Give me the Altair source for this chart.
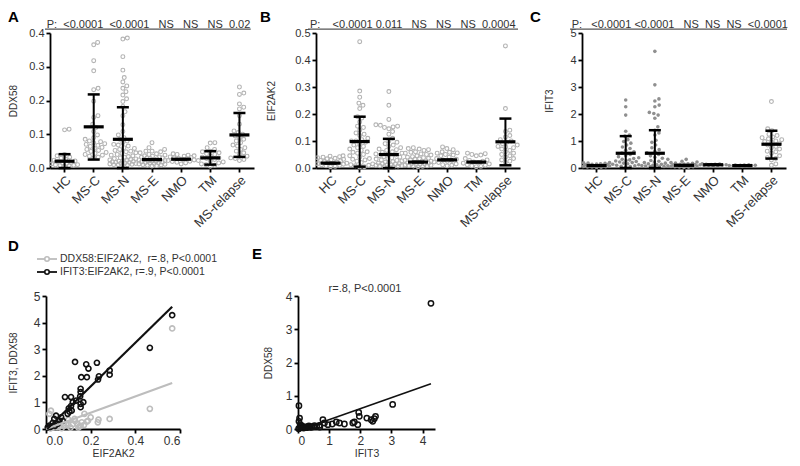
import math
import altair as alt
import pandas as pd

F = "Liberation Sans"
groups = ["HC", "MS-C", "MS-N", "MS-E", "NMO", "TM", "MS-relapse"]

# ---------------- Panel A : DDX58 ----------------
ddx58 = {
    "HC": [0.115, 0.113, 0.040, 0.036, 0.032, 0.029, 0.026, 0.023, 0.021, 0.019, 0.017, 0.015,
           0.013, 0.012, 0.010, 0.009, 0.008, 0.007, 0.006, 0.005],
    "MS-C": [0.372, 0.365, 0.318, 0.288, 0.236, 0.232, 0.198, 0.155, 0.150, 0.130, 0.120, 0.108,
             0.098, 0.090, 0.085, 0.080, 0.078, 0.075, 0.072, 0.070, 0.067, 0.064, 0.061, 0.058,
             0.055, 0.052, 0.049, 0.046, 0.043, 0.040, 0.038, 0.035, 0.032, 0.030],
    "MS-N": [0.385, 0.382, 0.330, 0.290, 0.268, 0.255, 0.243, 0.236, 0.226, 0.216, 0.205, 0.197,
             0.182, 0.167, 0.155, 0.128, 0.108, 0.098, 0.090, 0.085, 0.080, 0.075, 0.070, 0.068,
             0.065, 0.060, 0.058, 0.055, 0.052, 0.050, 0.048, 0.045, 0.043, 0.040, 0.038, 0.036,
             0.034, 0.032, 0.030, 0.028, 0.027, 0.025, 0.024, 0.022, 0.021, 0.020, 0.019, 0.018,
             0.017, 0.016, 0.015, 0.014, 0.013, 0.012, 0.011, 0.010, 0.010, 0.009, 0.008],
    "MS-E": [0.075, 0.060, 0.055, 0.050, 0.050, 0.048, 0.045, 0.042, 0.040, 0.038, 0.036, 0.035,
             0.033, 0.032, 0.030, 0.030, 0.028, 0.027, 0.026, 0.025, 0.024, 0.023, 0.022, 0.021,
             0.020, 0.019, 0.018, 0.017, 0.016, 0.015, 0.014, 0.013, 0.012, 0.011, 0.010, 0.009,
             0.008, 0.007, 0.006],
    "NMO": [0.042, 0.040, 0.038, 0.036, 0.035, 0.033, 0.031, 0.030, 0.028, 0.027, 0.025, 0.024,
            0.022, 0.020, 0.019, 0.017, 0.015, 0.012],
    "TM": [0.075, 0.074, 0.060, 0.055, 0.050, 0.048, 0.045, 0.042, 0.040, 0.035, 0.032, 0.030,
           0.028, 0.025, 0.022, 0.020, 0.018, 0.015, 0.012, 0.010, 0.008, 0.005],
    "MS-relapse": [0.240, 0.222, 0.218, 0.190, 0.180, 0.175, 0.155, 0.130, 0.110, 0.105, 0.100,
                   0.095, 0.090, 0.085, 0.080, 0.075, 0.068, 0.065, 0.060, 0.055, 0.050, 0.045,
                   0.040, 0.035, 0.030, 0.028, 0.025, 0.022],
}
ddx58_center = [0.020, 0.122, 0.085, 0.025, 0.026, 0.030, 0.098]
ddx58_low = [0.000, 0.025, 0.000, 0.025, 0.026, 0.010, 0.033]
ddx58_high = [0.041, 0.218, 0.180, 0.025, 0.026, 0.050, 0.163]
ddx58_p = ["<0.0001", "<0.0001", "NS", "NS", "NS", "0.02"]

# ---------------- Panel B : EIF2AK2 ----------------
eif2ak2 = {
    "HC": [0.045, 0.044, 0.042, 0.040, 0.038, 0.036, 0.034, 0.032, 0.030, 0.028, 0.026, 0.024,
           0.022, 0.020, 0.018, 0.016, 0.014, 0.012, 0.010, 0.008, 0.006, 0.005],
    "MS-C": [0.468, 0.285, 0.262, 0.240, 0.232, 0.220, 0.190, 0.185, 0.170, 0.155, 0.150, 0.140,
             0.130, 0.125, 0.120, 0.110, 0.105, 0.100, 0.100, 0.095, 0.090, 0.085, 0.080, 0.075,
             0.070, 0.065, 0.060, 0.058, 0.055, 0.050, 0.045, 0.040, 0.035, 0.032, 0.030, 0.025,
             0.020, 0.018, 0.015, 0.012, 0.010, 0.008, 0.005, 0.004],
    "MS-N": [0.283, 0.232, 0.180, 0.160, 0.158, 0.155, 0.152, 0.150, 0.145, 0.135, 0.125, 0.110,
             0.100, 0.095, 0.090, 0.085, 0.080, 0.075, 0.070, 0.068, 0.065, 0.060, 0.058, 0.055,
             0.052, 0.050, 0.048, 0.045, 0.042, 0.040, 0.038, 0.035, 0.033, 0.030, 0.028, 0.026,
             0.024, 0.022, 0.020, 0.018, 0.016, 0.015, 0.014, 0.012, 0.011, 0.010, 0.009, 0.008,
             0.007, 0.006, 0.005, 0.004],
    "MS-E": [0.075, 0.072, 0.070, 0.068, 0.065, 0.060, 0.058, 0.055, 0.052, 0.050, 0.048, 0.045,
             0.042, 0.040, 0.038, 0.036, 0.034, 0.032, 0.030, 0.028, 0.026, 0.025, 0.024, 0.022,
             0.020, 0.019, 0.018, 0.016, 0.015, 0.014, 0.012, 0.011, 0.010, 0.009, 0.008, 0.007,
             0.006, 0.005],
    "NMO": [0.078, 0.072, 0.068, 0.060, 0.058, 0.056, 0.055, 0.050, 0.048, 0.045, 0.040, 0.035,
            0.032, 0.030, 0.028, 0.025, 0.022, 0.020, 0.015, 0.012, 0.010, 0.008],
    "TM": [0.055, 0.053, 0.050, 0.048, 0.045, 0.035, 0.030, 0.028, 0.025, 0.022, 0.020, 0.018,
           0.015, 0.012, 0.010, 0.008, 0.006, 0.005],
    "MS-relapse": [0.452, 0.220, 0.140, 0.135, 0.120, 0.115, 0.105, 0.100, 0.095, 0.090, 0.085,
                   0.080, 0.078, 0.075, 0.070, 0.065, 0.060, 0.055, 0.050, 0.045, 0.040, 0.035,
                   0.030, 0.025, 0.020],
}
eif2ak2_center = [0.018, 0.098, 0.050, 0.022, 0.030, 0.022, 0.097]
eif2ak2_low = [0.018, 0.005, 0.000, 0.022, 0.030, 0.022, 0.010]
eif2ak2_high = [0.018, 0.190, 0.108, 0.022, 0.030, 0.022, 0.183]
eif2ak2_p = ["<0.0001", "0.011", "NS", "NS", "NS", "0.0004"]

# ---------------- Panel C : IFIT3 ----------------
ifit3 = {
    "HC": [0.20, 0.19, 0.18, 0.17, 0.16, 0.15, 0.14, 0.13, 0.12, 0.11, 0.10, 0.09, 0.08, 0.07,
           0.06, 0.05, 0.04, 0.04, 0.03, 0.02],
    "MS-C": [2.52, 2.27, 1.96, 1.36, 1.22, 1.18, 1.05, 0.98, 0.92, 0.85, 0.78, 0.72, 0.66, 0.60,
             0.55, 0.50, 0.46, 0.42, 0.38, 0.35, 0.32, 0.30, 0.28, 0.26, 0.24, 0.22, 0.20, 0.18,
             0.16, 0.14, 0.12, 0.10, 0.08, 0.06, 0.05, 0.04],
    "MS-N": [4.32, 3.08, 2.56, 2.48, 2.33, 2.27, 2.06, 2.02, 1.96, 1.84, 1.53, 1.40, 1.30, 1.22,
             1.03, 0.95, 0.85, 0.75, 0.68, 0.62, 0.56, 0.50, 0.45, 0.40, 0.36, 0.32, 0.28, 0.25,
             0.22, 0.20, 0.18, 0.16, 0.14, 0.12, 0.10, 0.09, 0.08, 0.07, 0.06, 0.05, 0.04, 0.03],
    "MS-E": [0.32, 0.25, 0.22, 0.20, 0.18, 0.17, 0.16, 0.15, 0.14, 0.13, 0.12, 0.11, 0.10, 0.09,
             0.08, 0.07, 0.06, 0.05, 0.05, 0.04, 0.03, 0.02],
    "NMO": [0.16, 0.15, 0.14, 0.14, 0.13, 0.12, 0.12, 0.11, 0.10, 0.10, 0.09, 0.08],
    "TM": [0.12, 0.11, 0.11, 0.10, 0.10, 0.09, 0.09, 0.08, 0.08, 0.07, 0.06],
    "MS-relapse": [2.46, 1.45, 1.38, 1.25, 1.20, 1.15, 1.12, 1.08, 1.05, 1.00, 0.98, 0.95, 0.90,
                   0.85, 0.80, 0.75, 0.70, 0.62, 0.60, 0.55, 0.45, 0.38, 0.35, 0.30, 0.15, 0.10],
}
ifit3_center = [0.09, 0.546, 0.546, 0.10, 0.12, 0.09, 0.88]
ifit3_low = [0.09, 0.0, 0.0, 0.10, 0.12, 0.09, 0.35]
ifit3_high = [0.09, 1.18, 1.40, 0.10, 0.12, 0.09, 1.38]
ifit3_p = ["<0.0001", "<0.0001", "NS", "NS", "NS", "<0.0001"]

# ---------------- Panel D : correlations with EIF2AK2 ----------------
d_labels = ["DDX58:EIF2AK2,\u00a0 r=.8, P<0.0001", "IFIT3:EIF2AK2, r=.9, P<0.0001"]
d_colors = ["#bdbdbd", "#111111"]
d_gray_x = [0.565, 0.465, 0.285, 0.235, 0.232, 0.188, 0.183, 0.200, 0.172, 0.128, 0.022, 0.015,
            0.030, 0.050, 0.060, 0.080, 0.100, 0.120, 0.140, 0.150, 0.160, 0.110, 0.090, 0.070,
            0.040, 0.020, 0.130, 0.170, 0.100, 0.060, 0.145, 0.155, 0.035]
d_gray_y = [3.78, 0.76, 0.38, 0.35, 0.25, 0.31, 0.28, 0.44, 0.57, 0.38, 0.69, 0.57,
            0.05, 0.08, 0.10, 0.12, 0.15, 0.18, 0.20, 0.10, 0.25, 0.05, 0.20, 0.03,
            0.15, 0.02, 0.30, 0.15, 0.35, 0.22, 0.05, 0.12, 0.10]
d_black_x = [0.565, 0.465, 0.285, 0.285, 0.228, 0.237, 0.233, 0.180, 0.190, 0.183, 0.158, 0.130,
             0.155, 0.155, 0.153, 0.167, 0.155, 0.155, 0.085, 0.112, 0.120, 0.135, 0.112, 0.102,
             0.105, 0.097, 0.115, 0.068, 0.060, 0.045, 0.037, 0.075, 0.015, 0.008, 0.030, 0.052,
             0.020, 0.040]
d_black_y = [4.28, 3.05, 2.20, 2.04, 2.49, 1.98, 1.86, 2.43, 2.27, 1.95, 1.95, 2.52,
             1.51, 1.39, 1.23, 1.01, 0.94, 0.82, 1.20, 1.20, 1.01, 1.07, 0.86, 0.78,
             0.65, 0.57, 0.69, 0.44, 0.31, 0.50, 0.38, 0.31, 0.13, 0.06, 0.23, 0.19,
             0.08, 0.12]
d_fit_slope = [3.06, 8.20]
d_fit_intercept = [0.0, -0.04]
d_fit_xrange = [[0.0, 0.565], [0.005, 0.565]]

# ---------------- Panel E : DDX58 vs IFIT3 ----------------
e_label = "r=.8, P<0.0001"
e_x = [4.27, 3.04, 1.95, 1.97, 1.92, 1.81, 2.21, 2.35, 2.45, 2.49, 2.40, 1.76, 1.49, 1.33, 1.23,
       1.10, 0.96, 0.80, 0.85, 0.69, 0.53, 0.37, 0.03, 0.05, 0.03, 0.07, 0.10, 0.15, 0.20, 0.25,
       0.30, 0.40, 0.45, 0.05, 0.02, 0.60, 0.70, 0.12, 0.18, 0.08, 0.35, 0.28, 0.50]
e_y = [3.78, 0.74, 0.50, 0.38, 0.13, 0.21, 0.33, 0.28, 0.31, 0.38, 0.23, 0.18, 0.15, 0.18, 0.21,
       0.15, 0.13, 0.28, 0.18, 0.11, 0.10, 0.08, 0.70, 0.33, 0.23, 0.13, 0.05, 0.04, 0.06, 0.05,
       0.07, 0.05, 0.06, 0.02, 0.01, 0.08, 0.06, 0.10, 0.03, 0.08, 0.09, 0.04, 0.07]
e_fit_slope = 0.33
e_fit_intercept = -0.05
e_fit_xrange = [0.15, 4.27]


def swarm(vals, vmax, h, d=4.6, lim=13.0):
    """Deterministic beeswarm: horizontal offsets (px) so dots do not overlap."""
    n = len(vals)
    order = sorted(range(n), key=lambda i: vals[i])
    placed = []
    out = [0.0] * n
    for i in order:
        py = vals[i] / vmax * h
        near = [(qy, qx) for qy, qx in placed if abs(qy - py) < d]
        cands = [0.0]
        for qy, qx in near:
            w = math.sqrt(max(d * d - (qy - py) ** 2, 0))
            cands += [qx - w, qx + w]
        cands.sort(key=lambda c: (round(abs(c), 6), -c))
        chosen = None
        for c in cands:
            if abs(c) > lim:
                continue
            if all(math.hypot(c - qx, py - qy) >= d - 1e-6 for qy, qx in near):
                chosen = c
                break
        if chosen is None:
            best = None
            k = int(lim * 2)
            for j in range(-k, k + 1):
                c = j * 0.5
                m = min((math.hypot(c - qx, py - qy) for qy, qx in near), default=99)
                if best is None or m > best[0]:
                    best = (m, c)
            chosen = best[1]
        placed.append((py, chosen))
        out[i] = chosen
    return out


W, H = 204, 135
LETTER = dict(align="left", baseline="top", fontSize=15, fontWeight="bold", font=F, color="black")


def one_row(**kw):
    return pd.DataFrame({k: [v] for k, v in kw.items()})


def strip_panel(vals, center, low, high, pvals, p_gaps, ytitle, ymax, yvals, yfmt, tpad,
                letter, letter_x, p_x, line_x, filled=()):
    bw = W / len(groups)
    pts, fpts = [], []
    for g in groups:
        offs = swarm(vals[g], ymax, H)
        for v, o in zip(vals[g], offs):
            (fpts if g in filled else pts).append({"g": g, "v": v, "o": o})
    stats = pd.DataFrame({"g": groups, "c": center, "lo": low, "hi": high})
    xs = alt.Scale(type="band", domain=groups, paddingInner=0, paddingOuter=0)
    xax = alt.Axis(title=None, labels=False)
    X = alt.X("g:N", scale=xs, sort=groups, axis=xax)
    ys = alt.Scale(domain=[0, ymax], nice=False, zero=True)
    yax = alt.Axis(values=yvals, format=yfmt, title=ytitle, titlePadding=tpad,
                   titleFontSize=10, labelFontSize=11)

    def Y(f):
        return alt.Y(f + ":Q", scale=ys, axis=yax)

    off = alt.XOffset("o:Q", scale=alt.Scale(domain=[-bw / 2, bw / 2]))
    layers = []
    if pts:
        layers.append(alt.Chart(pd.DataFrame(pts)).mark_point(
            shape="circle", filled=False, size=15, strokeWidth=1.1, color="#b3b3b3", opacity=1
        ).encode(x=X, xOffset=off, y=Y("v")))
    if fpts:
        layers.append(alt.Chart(pd.DataFrame(fpts)).mark_circle(
            size=13, color="#8f8f8f", opacity=1
        ).encode(x=X, xOffset=off, y=Y("v")))
    layers.append(alt.Chart(stats).mark_rule(color="black", strokeWidth=2).encode(
        x=X, y=Y("lo"), y2="hi:Q"))
    layers.append(alt.Chart(stats).mark_tick(color="black", size=12, thickness=2.5, opacity=1).encode(
        x=X, y=Y("lo")))
    layers.append(alt.Chart(stats).mark_tick(color="black", size=12, thickness=2.5, opacity=1).encode(
        x=X, y=Y("hi")))
    layers.append(alt.Chart(stats).mark_tick(color="black", size=20, thickness=3.2, opacity=1).encode(
        x=X, y=Y("c")))
    # rotated category labels
    layers.append(alt.Chart(pd.DataFrame({"g": groups})).mark_text(
        angle=315, align="right", baseline="top", fontSize=13, font=F, color="#333"
    ).encode(x=X, y=alt.value(H + 6), text="g:N"))
    ptext = "P:" + "".join("\u00a0" * n + p for n, p in zip(p_gaps, pvals))
    layers.append(alt.Chart(one_row(t=ptext)).mark_text(
        align="left", baseline="alphabetic", fontSize=11, font=F, color="#333"
    ).encode(x=alt.value(p_x), y=alt.value(-5.5), text="t:N"))
    layers.append(alt.Chart(one_row(k=0)).mark_rule(color="#555", strokeWidth=1.2).encode(
        x=alt.value(line_x[0]), x2=alt.value(line_x[1]), y=alt.value(-3.8)))
    layers.append(alt.Chart(one_row(t=letter)).mark_text(**LETTER).encode(
        x=alt.value(letter_x), y=alt.value(-23), text="t:N"))
    return alt.layer(*layers).properties(width=W, height=H)


pA = strip_panel(ddx58, ddx58_center, ddx58_low, ddx58_high, ddx58_p, [2, 2, 3, 3, 3, 2],
                 "DDX58", 0.4, [0, 0.1, 0.2, 0.3, 0.4], ".1f", 10, "A", -42, -3.3, (-5, 200.7))
pB = strip_panel(eif2ak2, eif2ak2_center, eif2ak2_low, eif2ak2_high, eif2ak2_p, [4, 1, 3, 3, 3, 2],
                 "EIF2AK2", 0.5, [0, 0.1, 0.2, 0.3, 0.4, 0.5], ".1f", 18, "B", -56, -6, (-8, 202))
pC = strip_panel(ifit3, ifit3_center, ifit3_low, ifit3_high, ifit3_p, [3, 1, 3, 2, 2, 2],
                 "IFIT3", 5, [0, 1, 2, 3, 4, 5], "d", 15, "C", -52, -10.3, (-12, 205),
                 filled=("HC", "MS-C", "MS-N", "MS-E", "NMO", "TM"))

# ---- D ----  (view origin shared with panel A; data area starts 4 px further left)
DW, BH = 130, 133
d_rows = ([{"x": x, "y": y, "s": d_labels[0]} for x, y in zip(d_gray_x, d_gray_y)] +
          [{"x": x, "y": y, "s": d_labels[1]} for x, y in zip(d_black_x, d_black_y)])
d_lines = []
for lab, m, b, (x0, x1) in zip(d_labels, d_fit_slope, d_fit_intercept, d_fit_xrange):
    d_lines += [{"x": x0, "y": m * x0 + b, "s": lab}, {"x": x1, "y": m * x1 + b, "s": lab}]

d_stroke = alt.Stroke("s:N", scale=alt.Scale(domain=d_labels, range=d_colors), legend=None)
dX = alt.X("x:Q", scale=alt.Scale(domain=[0, 0.6], nice=False, range=[-4, DW]),
           axis=alt.Axis(values=[0, 0.2, 0.4, 0.6], format=".1f", title="EIF2AK2",
                         titlePadding=2, labelFontSize=12, titleFontSize=10.5))
dY = alt.Y("y:Q", scale=alt.Scale(domain=[0, 5], nice=False),
           axis=alt.Axis(values=[0, 1, 2, 3, 4, 5], format="d", title="IFIT3, DDX58", offset=4,
                         titlePadding=14.5, labelFontSize=12, titleFontSize=10))
d_layers = [
    alt.Chart(pd.DataFrame(d_rows)).mark_point(shape="circle", filled=False, size=26,
                                               strokeWidth=1.6, opacity=1).encode(
        x=dX, y=dY, stroke=d_stroke),
    alt.Chart(pd.DataFrame(d_lines)).mark_line(strokeWidth=2.2).encode(
        x=dX, y=dY, stroke=d_stroke),
    alt.Chart(one_row(t="D")).mark_text(**LETTER).encode(
        x=alt.value(-42), y=alt.value(-57), text="t:N"),
]
# hand-made legend (line + open circle + label)
for i, (lab, col) in enumerate(zip(d_labels, d_colors)):
    ly = -37 + 13 * i
    d_layers += [
        alt.Chart(one_row(k=i)).mark_rule(color=col, strokeWidth=1.8).encode(
            x=alt.value(-13), x2=alt.value(7), y=alt.value(ly)),
        alt.Chart(one_row(k=i)).mark_point(shape="circle", filled=False, size=20, fill="white",
                                          stroke=col, strokeWidth=1.6, opacity=1).encode(
            x=alt.value(-3), y=alt.value(ly)),
        alt.Chart(one_row(t=lab)).mark_text(
            align="left", baseline="middle", fontSize=10.5, font=F, color="#333"
        ).encode(x=alt.value(10), y=alt.value(ly), text="t:N"),
    ]
pD = alt.layer(*d_layers).properties(width=DW, height=BH)

# ---- E ----
e_rows = pd.DataFrame({"x": e_x, "y": e_y})
e_line = pd.DataFrame({"x": e_fit_xrange,
                       "y": [e_fit_slope * v + e_fit_intercept for v in e_fit_xrange]})
eX = alt.X("x:Q", scale=alt.Scale(domain=[0, 4.4], nice=False),
           axis=alt.Axis(values=[0, 1, 2, 3, 4], format="d", title="IFIT3",
                         titlePadding=2, labelFontSize=12, titleFontSize=10.5))
eY = alt.Y("y:Q", scale=alt.Scale(domain=[0, 4], nice=False),
           axis=alt.Axis(values=[0, 1, 2, 3, 4], format="d", title="DDX58",
                         titlePadding=12, labelFontSize=12, titleFontSize=10))
pE = alt.layer(
    alt.Chart(e_rows).mark_point(shape="circle", filled=False, size=28, strokeWidth=1.5,
                                 color="#111", opacity=1).encode(x=eX, y=eY),
    alt.Chart(e_line).mark_line(strokeWidth=1.6, color="#111").encode(x=eX, y=eY),
    alt.Chart(one_row(t=e_label)).mark_text(
        align="center", baseline="alphabetic", fontSize=11, font=F, color="#333"
    ).encode(x=alt.value(67), y=alt.value(-4), text="t:N"),
    alt.Chart(one_row(t="E")).mark_text(**LETTER).encode(
        x=alt.value(-46), y=alt.value(-49), text="t:N"),
).properties(width=137, height=BH)

top = alt.hconcat(pA, pB, pC, spacing=62, bounds="flush")
bottom = alt.hconcat(pD, pE, spacing=118, bounds="flush")
chart = alt.vconcat(top, bottom, spacing=8).configure_view(stroke=None).configure_axis(
    grid=False, domainColor="black", tickColor="black", labelColor="#333", titleColor="#333",
    labelFont=F, titleFont=F, titleFontWeight="normal", domainWidth=1.8, tickWidth=1.8,
    tickSize=4, labelPadding=2
).properties(padding={"left": 0, "top": 2, "right": 0, "bottom": 0})

chart.save("out.html", embed_options={"renderer": "svg", "actions": False})
